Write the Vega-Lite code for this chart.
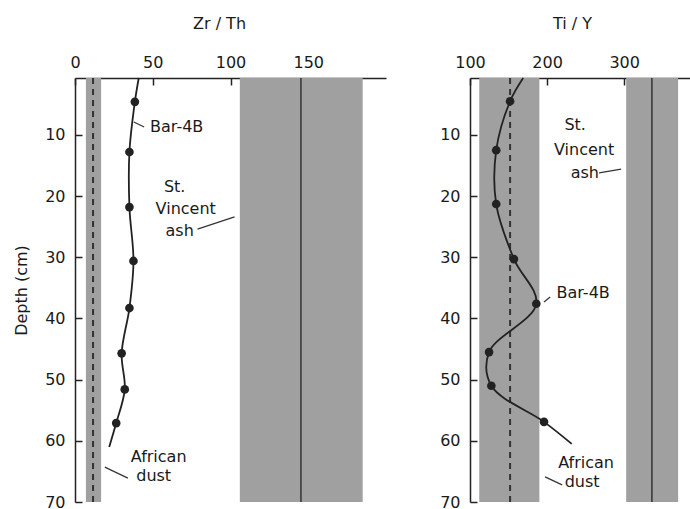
{
 "$schema": "https://vega.github.io/schema/vega-lite/v6.json",
 "padding": {"left": 13, "top": 15, "right": 0, "bottom": 0},
 "background": "white",
 "spacing": 53,
 "config": {
  "view": {"stroke": null},
  "font": "DejaVu Sans",
  "axis": {"domainColor": "#222", "domainWidth": 1.5, "tickColor": "#222", "tickWidth": 1.5, "tickSize": -7, "labelFontSize": 16, "labelColor": "#1a1a1a", "labelFont": "DejaVu Sans", "labelFlush": false, "titleFont": "DejaVu Sans", "titleFontSize": 16, "titleFontWeight": "normal", "titleColor": "#1a1a1a", "grid": false},
  "axisX": {"labelPadding": 15},
  "axisY": {"labelPadding": 17},
  "text": {"font": "DejaVu Sans", "fontSize": 16, "color": "#1a1a1a"}
 },
 "datasets": {
  "profile": [
   {"panel": "Zr/Th", "depth": 0.7, "ratio": 41, "sample": false},
   {"panel": "Zr/Th", "depth": 4.6, "ratio": 38.5, "sample": true},
   {"panel": "Zr/Th", "depth": 12.8, "ratio": 35, "sample": true},
   {"panel": "Zr/Th", "depth": 21.8, "ratio": 35, "sample": true},
   {"panel": "Zr/Th", "depth": 30.6, "ratio": 37.6, "sample": true},
   {"panel": "Zr/Th", "depth": 38.3, "ratio": 35, "sample": true},
   {"panel": "Zr/Th", "depth": 45.7, "ratio": 30, "sample": true},
   {"panel": "Zr/Th", "depth": 51.6, "ratio": 32, "sample": true},
   {"panel": "Zr/Th", "depth": 57.1, "ratio": 26.5, "sample": true},
   {"panel": "Zr/Th", "depth": 61, "ratio": 22, "sample": false},
   {"panel": "Ti/Y", "depth": 0.7, "ratio": 169, "sample": false},
   {"panel": "Ti/Y", "depth": 4.5, "ratio": 152, "sample": true},
   {"panel": "Ti/Y", "depth": 12.5, "ratio": 134, "sample": true},
   {"panel": "Ti/Y", "depth": 21.3, "ratio": 134, "sample": true},
   {"panel": "Ti/Y", "depth": 30.3, "ratio": 157, "sample": true},
   {"panel": "Ti/Y", "depth": 37.6, "ratio": 186, "sample": true},
   {"panel": "Ti/Y", "depth": 45.5, "ratio": 124.7, "sample": true},
   {"panel": "Ti/Y", "depth": 51, "ratio": 127.7, "sample": true},
   {"panel": "Ti/Y", "depth": 56.9, "ratio": 196, "sample": true},
   {"panel": "Ti/Y", "depth": 60.5, "ratio": 232, "sample": false}
  ],
  "bands": [
   {"panel": "Zr/Th", "source": "African dust", "lo": 7, "hi": 16.8},
   {"panel": "Zr/Th", "source": "St. Vincent ash", "lo": 106, "hi": 185},
   {"panel": "Ti/Y", "source": "African dust", "lo": 112, "hi": 190},
   {"panel": "Ti/Y", "source": "St. Vincent ash", "lo": 302.6, "hi": 370}
  ],
  "refs": [
   {"panel": "Zr/Th", "source": "African dust", "ratio": 11.6},
   {"panel": "Zr/Th", "source": "St. Vincent ash", "ratio": 145.3},
   {"panel": "Ti/Y", "source": "African dust", "ratio": 152},
   {"panel": "Ti/Y", "source": "St. Vincent ash", "ratio": 336}
  ],
  "leaders": [
   {"panel": "Zr/Th", "x1": 37.8, "y1": 7.9, "x2": 44.5, "y2": 8.7},
   {"panel": "Zr/Th", "x1": 78.8, "y1": 25.4, "x2": 102.6, "y2": 23.4},
   {"panel": "Zr/Th", "x1": 19.2, "y1": 64.3, "x2": 34, "y2": 66.1},
   {"panel": "Ti/Y", "x1": 267.5, "y1": 16.2, "x2": 296, "y2": 15.6},
   {"panel": "Ti/Y", "x1": 196, "y1": 37.3, "x2": 204, "y2": 36.5},
   {"panel": "Ti/Y", "x1": 197.4, "y1": 65.9, "x2": 219.5, "y2": 67.2}
  ],
  "notes": [
   {"panel": "Zr/Th", "label": "Bar-4B", "x": 65.4, "y": 8.7},
   {"panel": "Zr/Th", "label": "St.", "x": 64.1, "y": 18.5},
   {"panel": "Zr/Th", "label": "Vincent", "x": 71.2, "y": 22.1},
   {"panel": "Zr/Th", "label": "ash", "x": 67.3, "y": 25.7},
   {"panel": "Zr/Th", "label": "African", "x": 53.8, "y": 62.6},
   {"panel": "Zr/Th", "label": "dust", "x": 50.6, "y": 65.7},
   {"panel": "Ti/Y", "label": "St.", "x": 236.4, "y": 8.4},
   {"panel": "Ti/Y", "label": "Vincent", "x": 248, "y": 12.5},
   {"panel": "Ti/Y", "label": "ash", "x": 249, "y": 16.2},
   {"panel": "Ti/Y", "label": "Bar-4B", "x": 246.8, "y": 35.8},
   {"panel": "Ti/Y", "label": "African", "x": 250.6, "y": 63.6},
   {"panel": "Ti/Y", "label": "dust", "x": 245.5, "y": 66.7}
  ]
 },
 "hconcat": [
  {
   "width": 311,
   "height": 424,
   "layer": [
    {
     "data": {"name": "bands"},
     "transform": [{"filter": "datum.panel == 'Zr/Th'"}],
     "mark": {"type": "rect", "color": "#a0a0a0"},
     "encoding": {
      "x": {"field": "lo", "type": "quantitative", "scale": {"domain": [0, 200], "nice": false, "zero": false},
            "axis": {"orient": "top", "values": [0, 50, 100, 150], "title": "Zr / Th", "titleX": 144, "titleY": -55, "titleBaseline": "middle", "titleAlign": "center"}},
      "x2": {"field": "hi"},
      "y": {"datum": 0.7, "type": "quantitative", "scale": {"domain": [0.7, 70], "nice": false, "zero": false, "reverse": true},
            "axis": {"orient": "left", "values": [10, 20, 30, 40, 50, 60, 70], "title": "Depth (cm)", "titlePadding": 15}},
      "y2": {"datum": 70}
     }
    },
    {
     "data": {"name": "refs"},
     "transform": [{"filter": "datum.panel == 'Zr/Th' && datum.source == 'St. Vincent ash'"}],
     "mark": {"type": "rule", "color": "#333", "strokeWidth": 1.5},
     "encoding": {
      "x": {"field": "ratio", "type": "quantitative"},
      "y": {"datum": 0.7, "type": "quantitative"},
      "y2": {"datum": 70}
     }
    },
    {
     "data": {"name": "refs"},
     "transform": [{"filter": "datum.panel == 'Zr/Th' && datum.source == 'African dust'"}],
     "mark": {"type": "rule", "color": "#333", "strokeWidth": 2, "strokeDash": [6, 5]},
     "encoding": {
      "x": {"field": "ratio", "type": "quantitative"},
      "y": {"datum": 0.7, "type": "quantitative"},
      "y2": {"datum": 70}
     }
    },
    {
     "data": {"name": "profile"},
     "transform": [{"filter": "datum.panel == 'Zr/Th'"}],
     "mark": {"type": "line", "interpolate": "catmull-rom", "color": "#222", "strokeWidth": 1.8},
     "encoding": {
      "x": {"field": "ratio", "type": "quantitative"},
      "y": {"field": "depth", "type": "quantitative"},
      "order": {"field": "depth", "type": "quantitative"}
     }
    },
    {
     "data": {"name": "profile"},
     "transform": [{"filter": "datum.panel == 'Zr/Th' && datum.sample"}],
     "mark": {"type": "circle", "color": "#222", "opacity": 1, "size": 75},
     "encoding": {
      "x": {"field": "ratio", "type": "quantitative"},
      "y": {"field": "depth", "type": "quantitative"}
     }
    },
    {
     "data": {"name": "leaders"},
     "transform": [{"filter": "datum.panel == 'Zr/Th'"}],
     "mark": {"type": "rule", "color": "#333", "strokeWidth": 1.2},
     "encoding": {
      "x": {"field": "x1", "type": "quantitative"},
      "x2": {"field": "x2"},
      "y": {"field": "y1", "type": "quantitative"},
      "y2": {"field": "y2"}
     }
    },
    {
     "data": {"name": "notes"},
     "transform": [{"filter": "datum.panel == 'Zr/Th'"}],
     "mark": {"type": "text", "align": "center", "baseline": "middle"},
     "encoding": {
      "x": {"field": "x", "type": "quantitative"},
      "y": {"field": "y", "type": "quantitative"},
      "text": {"field": "label"}
     }
    }
   ]
  },
  {
   "width": 222,
   "height": 424,
   "layer": [
    {
     "data": {"name": "bands"},
     "transform": [{"filter": "datum.panel == 'Ti/Y'"}],
     "mark": {"type": "rect", "color": "#a0a0a0"},
     "encoding": {
      "x": {"field": "lo", "type": "quantitative", "scale": {"domain": [100, 388], "nice": false, "zero": false},
            "axis": {"orient": "top", "values": [100, 200, 300], "title": "Ti / Y", "titleX": 102, "titleY": -55, "titleBaseline": "middle", "titleAlign": "center"}},
      "x2": {"field": "hi"},
      "y": {"datum": 0.7, "type": "quantitative", "scale": {"domain": [0.7, 70], "nice": false, "zero": false, "reverse": true},
            "axis": {"orient": "left", "values": [10, 20, 30, 40, 50, 60, 70], "title": null}},
      "y2": {"datum": 70}
     }
    },
    {
     "data": {"name": "refs"},
     "transform": [{"filter": "datum.panel == 'Ti/Y' && datum.source == 'St. Vincent ash'"}],
     "mark": {"type": "rule", "color": "#333", "strokeWidth": 1.5},
     "encoding": {
      "x": {"field": "ratio", "type": "quantitative"},
      "y": {"datum": 0.7, "type": "quantitative"},
      "y2": {"datum": 70}
     }
    },
    {
     "data": {"name": "refs"},
     "transform": [{"filter": "datum.panel == 'Ti/Y' && datum.source == 'African dust'"}],
     "mark": {"type": "rule", "color": "#333", "strokeWidth": 2, "strokeDash": [6, 5]},
     "encoding": {
      "x": {"field": "ratio", "type": "quantitative"},
      "y": {"datum": 0.7, "type": "quantitative"},
      "y2": {"datum": 70}
     }
    },
    {
     "data": {"name": "profile"},
     "transform": [{"filter": "datum.panel == 'Ti/Y'"}],
     "mark": {"type": "line", "interpolate": "catmull-rom", "color": "#222", "strokeWidth": 1.8},
     "encoding": {
      "x": {"field": "ratio", "type": "quantitative"},
      "y": {"field": "depth", "type": "quantitative"},
      "order": {"field": "depth", "type": "quantitative"}
     }
    },
    {
     "data": {"name": "profile"},
     "transform": [{"filter": "datum.panel == 'Ti/Y' && datum.sample"}],
     "mark": {"type": "circle", "color": "#222", "opacity": 1, "size": 75},
     "encoding": {
      "x": {"field": "ratio", "type": "quantitative"},
      "y": {"field": "depth", "type": "quantitative"}
     }
    },
    {
     "data": {"name": "leaders"},
     "transform": [{"filter": "datum.panel == 'Ti/Y'"}],
     "mark": {"type": "rule", "color": "#333", "strokeWidth": 1.2},
     "encoding": {
      "x": {"field": "x1", "type": "quantitative"},
      "x2": {"field": "x2"},
      "y": {"field": "y1", "type": "quantitative"},
      "y2": {"field": "y2"}
     }
    },
    {
     "data": {"name": "notes"},
     "transform": [{"filter": "datum.panel == 'Ti/Y'"}],
     "mark": {"type": "text", "align": "center", "baseline": "middle"},
     "encoding": {
      "x": {"field": "x", "type": "quantitative"},
      "y": {"field": "y", "type": "quantitative"},
      "text": {"field": "label"}
     }
    }
   ]
  }
 ]
}
